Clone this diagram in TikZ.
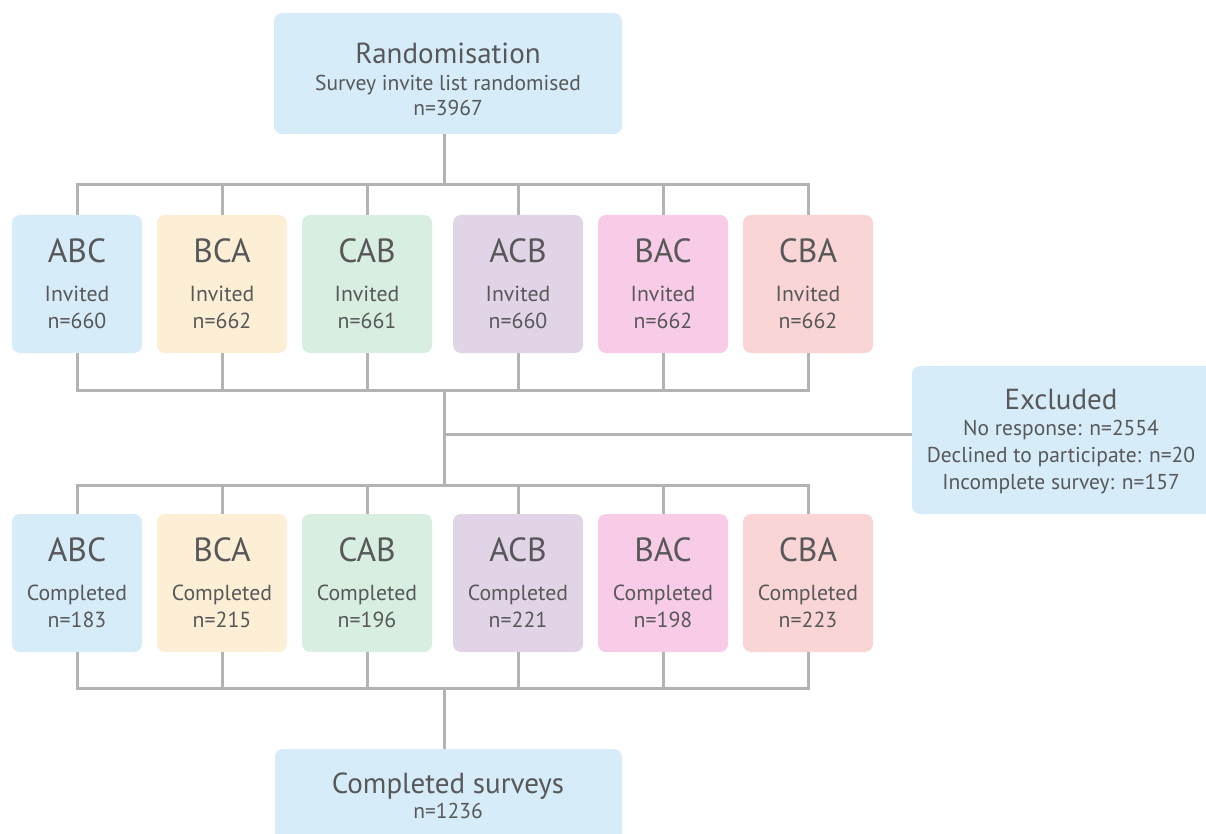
\documentclass[tikz,border=0pt]{standalone}
\usepackage{fontspec}
\setmainfont{PT Sans}
\usepackage{tikz}
\usetikzlibrary{positioning, calc}

\definecolor{boxblue}{HTML}{D6ECF8}
\definecolor{boxcream}{HTML}{FDEFD6}
\definecolor{boxgreen}{HTML}{D7EEE0}
\definecolor{boxpurple}{HTML}{E2D4E7}
\definecolor{boxpink}{HTML}{F8CCE6}
\definecolor{boxsalmon}{HTML}{F9D6D5}
\definecolor{txtgray}{HTML}{58585A}
\definecolor{linegray}{HTML}{B3B3B3}

\tikzset{
    box/.style={rectangle, rounded corners=8pt, fill=#1, draw=none,
        minimum width=130pt, minimum height=138pt, inner sep=0pt,
        text=txtgray, align=center, font=\fontsize{21.8}{27}\selectfont},
    boxtext/.style={text=txtgray, align=center, inner sep=0pt,
        font=\fontsize{21.5}{25}\selectfont},
    link/.style={draw=linegray, line width=3pt},
}
\def\bigfont{\fontsize{33.5}{33.5}\selectfont}
\def\headfont{\fontsize{29}{29}\selectfont}

\begin{document}
\begin{tikzpicture}[x=1pt, y=-1pt]
    \useasboundingbox (0,0) rectangle (1206,834);
    \clip (0,0) rectangle (1206,834);

    % top and bottom boxes
    \node[box=boxblue, minimum width=348pt, minimum height=121pt] (rand) at (448,73.5) {};
    \node[boxtext] (randtxt) at (448,79.5)
        {{\headfont Randomisation}\\[2pt]Survey invite list randomised\\n=3967};

    \node[box=boxblue, minimum width=318pt, minimum height=148pt] (excl) at (1071,440) {};
    \node[boxtext, font=\fontsize{21.5}{27}\selectfont] (excltxt) at (1061,442)
        {{\headfont Excluded}\\[-1pt]No response: n=2554\\Declined to participate: n=20\\Incomplete survey: n=157};

    \node[box=boxblue, minimum width=347pt, minimum height=121pt] (done) at (448.5,809.5) {};
    \node[boxtext] (donetxt) at (448,796)
        {{\headfont Completed surveys}\\n=1236};

    % invited and completed rows
    \foreach \i/\lab/\a/\b/\x/\col in {
        1/ABC/660/183/77/boxblue,
        2/BCA/662/215/222/boxcream,
        3/CAB/661/196/367/boxgreen,
        4/ACB/660/221/518/boxpurple,
        5/BAC/662/198/663/boxpink,
        6/CBA/662/223/808/boxsalmon}{

        \node[box=\col] (inv\i) at (\x,284) {{\bigfont \lab}\\[12pt]Invited\\n=\a};
        \node[box=\col] (comp\i) at (\x,583) {{\bigfont \lab}\\[12pt]Completed\\n=\b};
    }

    % bus points
    \coordinate (tbar) at (444,185);
    \coordinate (ibar) at (444,390);
    \coordinate (xbar) at (444,434);
    \coordinate (cbar) at (444,485);
    \coordinate (dbar) at (444,688);

    % draw connectors
    \draw[link] (rand.south -| tbar) -- (tbar);
    \draw[link] (inv1.north) -- (inv1.north |- tbar) -- (inv6.north |- tbar) -- (inv6.north);
    \draw[link] (inv1.south) -- (inv1.south |- ibar) -- (inv6.south |- ibar) -- (inv6.south);
    \draw[link] (comp1.north) -- (comp1.north |- cbar) -- (comp6.north |- cbar) -- (comp6.north);
    \draw[link] (comp1.south) -- (comp1.south |- dbar) -- (comp6.south |- dbar) -- (comp6.south);
    \foreach \i in {2,...,5}
    {
        \draw[link] (inv\i.north |- tbar) -- (inv\i.north);
        \draw[link] (inv\i.south) -- (inv\i.south |- ibar);
        \draw[link] (comp\i.north |- cbar) -- (comp\i.north);
        \draw[link] (comp\i.south) -- (comp\i.south |- dbar);
    }
    \draw[link] (ibar) -- (cbar);
    \draw[link] (xbar) -- (xbar -| excl.west);
    \draw[link] (dbar) -- (done.north -| dbar);
\end{tikzpicture}
\end{document}
